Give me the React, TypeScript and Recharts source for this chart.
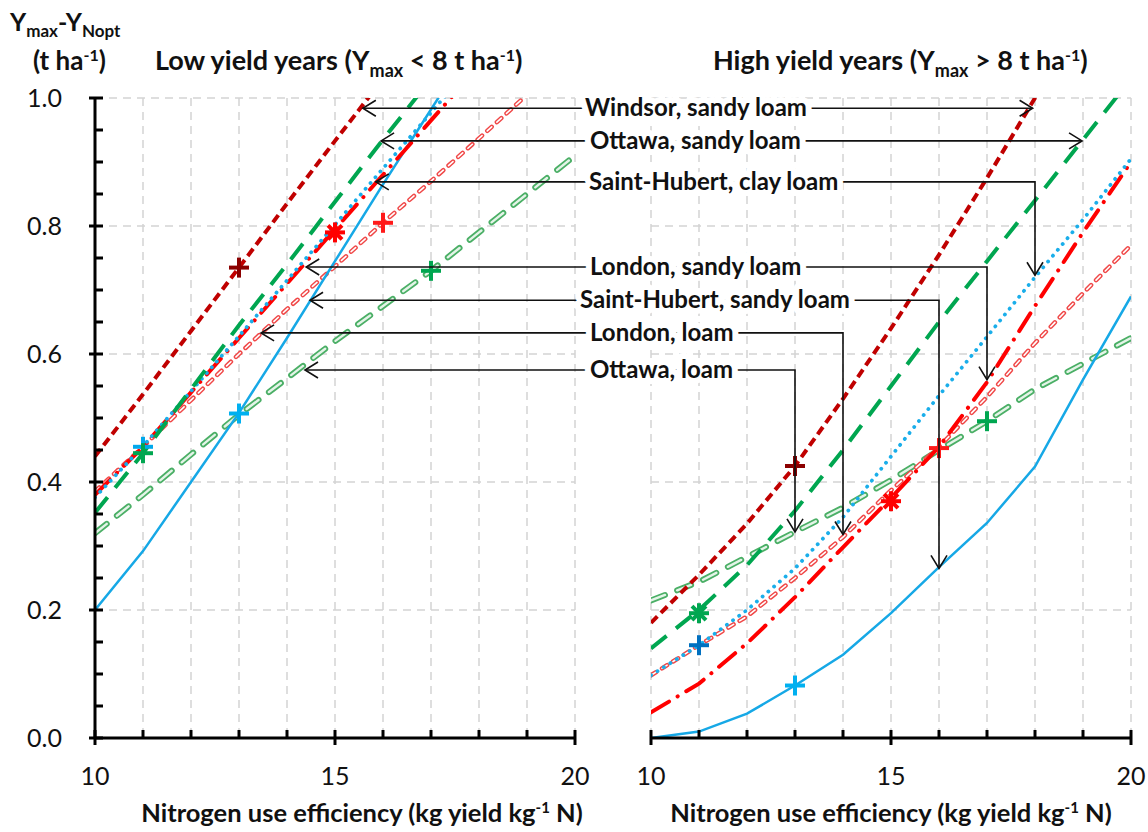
import React from "react";
import {
  ComposedChart,
  Line,
  Scatter,
  XAxis,
  YAxis,
  CartesianGrid,
} from "recharts";

// x values: nitrogen use efficiency (kg yield / kg N)
const nue = [10, 11, 12, 13, 14, 15, 16, 17, 18, 19, 20];

// Low yield years (Ymax < 8 t/ha): Ymax - YNopt (t/ha)
const lowWindsorSandy = [0.44, 0.537, 0.636, 0.735, 0.835, 0.933, 1.03];
const lowOttawaSandy = [0.352, 0.445, 0.545, 0.645, 0.74, 0.838, 0.935, 1.03];
const lowStHubertClay = [0.376, 0.456, 0.542, 0.628, 0.715, 0.802, 0.89, 0.977, 1.065];
const lowLondonSandy = [0.38, 0.455, 0.54, 0.625, 0.71, 0.795, 0.88, 0.965, 1.05];
const lowStHubertSandy = [0.385, 0.455, 0.528, 0.6, 0.67, 0.737, 0.805, 0.87, 0.937, 1.005];
const lowLondonLoam = [0.2, 0.292, 0.4, 0.508, 0.625, 0.745, 0.865, 0.982, 1.1];
const lowOttawaLoam = [0.32, 0.38, 0.443, 0.505, 0.562, 0.62, 0.675, 0.73, 0.79, 0.85, 0.91];

// High yield years (Ymax > 8 t/ha)
const highWindsorSandy = [0.18, 0.255, 0.335, 0.425, 0.53, 0.64, 0.755, 0.875, 1.0, 1.13];
const highOttawaSandy = [0.14, 0.2, 0.27, 0.355, 0.45, 0.55, 0.65, 0.745, 0.84, 0.935, 1.03];
const highStHubertClay = [0.098, 0.145, 0.2, 0.265, 0.345, 0.44, 0.535, 0.627, 0.72, 0.81, 0.905];
const highLondonSandy = [0.04, 0.085, 0.148, 0.22, 0.298, 0.375, 0.455, 0.556, 0.675, 0.79, 0.9];
const highStHubertSandy = [0.098, 0.145, 0.19, 0.25, 0.314, 0.387, 0.455, 0.533, 0.617, 0.695, 0.77];
const highLondonLoam = [0, 0.01, 0.038, 0.082, 0.13, 0.195, 0.267, 0.336, 0.424, 0.56, 0.69];
const highOttawaLoam = [0.215, 0.244, 0.283, 0.322, 0.36, 0.403, 0.45, 0.495, 0.545, 0.585, 0.625];

// optimum points (+ markers)
const lowOptima = [
  { site: "windsor", kind: "plus", x: 13, y: 0.735 },
  { site: "londonSandy", kind: "star", x: 15, y: 0.79 },
  { site: "stHubertSandy", kind: "plus", x: 16, y: 0.805 },
  { site: "ottawaLoam", kind: "plus", x: 17, y: 0.73 },
  { site: "stHubertClay", kind: "plus", x: 11, y: 0.455 },
  { site: "ottawaSandy", kind: "plus", x: 11, y: 0.445 },
  { site: "londonLoam", kind: "plus", x: 13, y: 0.507 },
];
const highOptima = [
  { site: "windsor", kind: "plus", x: 13, y: 0.425 },
  { site: "ottawaSandy", kind: "star", x: 11, y: 0.195 },
  { site: "stHubertClay", kind: "plus", x: 11, y: 0.145 },
  { site: "londonLoam", kind: "plus", x: 13, y: 0.082 },
  { site: "londonSandy", kind: "star", x: 15, y: 0.37 },
  { site: "stHubertSandy", kind: "plus", x: 16, y: 0.453 },
  { site: "ottawaLoam", kind: "plus", x: 17, y: 0.495 },
];

// annotation arrows
const arrowLabels = [
  "Windsor, sandy loam",
  "Ottawa, sandy loam",
  "Saint-Hubert, clay loam",
  "London, sandy loam",
  "Saint-Hubert, sandy loam",
  "London, loam",
  "Ottawa, loam",
];
const arrowRowY = [0.984, 0.933, 0.869, 0.736, 0.684, 0.633, 0.575];
const arrowLowTipX = [15.58, 15.96, 15.85, 14.4, 14.48, 13.46, 14.375];
const arrowHighX = [17.95, 18.98, 18, 17, 16, 14, 13];
const arrowHighTipY = [null, null, 0.723, 0.56, 0.265, 0.318, 0.322];

const yTicks = [
  0, 0.05, 0.1, 0.15, 0.2, 0.25, 0.3, 0.35, 0.4, 0.45, 0.5, 0.55, 0.6, 0.65,
  0.7, 0.75, 0.8, 0.85, 0.9, 0.95, 1.0,
];
const gridY = [0.2, 0.4, 0.6, 0.8, 1.0];

const FONT = "Lato, 'Open Sans', sans-serif";
const PLOT_TOP = 98;
const PLOT_BOTTOM = 738;
const LOW_X0 = 95;
const LOW_X1 = 575;
const HIGH_X0 = 651;
const HIGH_X1 = 1131;
const W = 1148;
const H = 832;

const py = (v: number) => PLOT_BOTTOM - v * (PLOT_BOTTOM - PLOT_TOP);
const lx = (v: number) => LOW_X0 + ((v - 10) / 10) * (LOW_X1 - LOW_X0);
const hx = (v: number) => HIGH_X0 + ((v - 10) / 10) * (HIGH_X1 - HIGH_X0);

const styles: Record<string, any> = {
  ottawaLoam: { stroke: "#4BAF66", width: 6, dash: "15 13", cap: "round", inner: "#E4F4E8", innerWidth: 2.4 },
  stHubertSandy: { stroke: "#F04848", width: 4.5, dash: "6 7", cap: "round", inner: "#FFFFFF", innerWidth: 1.6 },
  londonLoam: { stroke: "#16A8E6", width: 2.5 },
  londonSandy: { stroke: "#FF0000", width: 4, dash: "21 10 0.1 10", cap: "round" },
  stHubertClay: { stroke: "#1AAEEA", width: 3.8, dash: "0.1 7.5", cap: "round" },
  ottawaSandy: { stroke: "#00A650", width: 4, dash: "20 12" },
  windsor: { stroke: "#C00000", width: 4, dash: "9 5" },
};

const markerColors: Record<string, string> = {
  windsor: "#8B0000",
  ottawaSandy: "#00A650",
  stHubertClay: "#00A8EC",
  londonSandy: "#FF0000",
  stHubertSandy: "#FF1A1A",
  londonLoam: "#00B0F0",
  ottawaLoam: "#00A650",
};
const highMarkerColors: Record<string, string> = { ...markerColors, stHubertClay: "#0070C0" };

const toPoints = (ys: number[]) => ys.map((y, i) => ({ x: nue[i], y }));

const YTick = (props: any) => {
  const { x, y, payload } = props;
  const v = payload.value;
  const major = Math.abs(v * 5 - Math.round(v * 5)) < 1e-6;
  return (
    <g>
      <line x1={major ? x - 6 : x} x2={x + 8} y1={y} y2={y} stroke="#000" strokeWidth={3} />
      {major && (
        <text x={x - 33} y={y} dy="0.36em" textAnchor="end" fontFamily={FONT} fontSize={25} fill="#111">
          {v.toFixed(1)}
        </text>
      )}
    </g>
  );
};

const XTick = (props: any) => {
  const { x, y, payload } = props;
  const v = payload.value;
  const major = v % 5 === 0;
  return (
    <g>
      <line x1={x} x2={x} y1={y - 8} y2={major ? y + 7 : y} stroke="#000" strokeWidth={3} />
      {major && (
        <text x={x} y={y + 38} dy="0.36em" textAnchor="middle" fontFamily={FONT} fontSize={25} fill="#111">
          {v}
        </text>
      )}
    </g>
  );
};

const makeMarker = (colors: Record<string, string>) => (props: any) => {
  const { cx, cy, payload } = props;
  const c = colors[payload.site];
  const r = 10;
  return (
    <g stroke={c} strokeWidth={4}>
      <line x1={cx - r} x2={cx + r} y1={cy} y2={cy} />
      <line x1={cx} x2={cx} y1={cy - r} y2={cy + r} />
      {payload.kind === "star" && (
        <>
          <line x1={cx - 7} x2={cx + 7} y1={cy - 7} y2={cy + 7} />
          <line x1={cx - 7} x2={cx + 7} y1={cy + 7} y2={cy - 7} />
        </>
      )}
    </g>
  );
};

type Series = { site: string; values: number[] };

const Panel = ({
  series,
  optima,
  colors,
  left,
  x0,
  x1,
  showYAxis,
}: {
  series: Series[];
  optima: any[];
  colors: Record<string, string>;
  left: number;
  x0: number;
  x1: number;
  showYAxis: boolean;
}) => {
  const width = showYAxis ? 600 : W - left;
  const yAxisWidth = showYAxis ? 50 : 0;
  const margin = {
    top: PLOT_TOP,
    right: left + width - x1,
    bottom: H - PLOT_BOTTOM - 60,
    left: x0 - left - yAxisWidth,
  };
  const lines: React.ReactNode[] = [];
  series.forEach((s) => {
    const st = styles[s.site];
    const pts = toPoints(s.values);
    lines.push(
      <Line
        key={s.site}
        data={pts}
        dataKey="y"
        type="linear"
        stroke={st.stroke}
        strokeWidth={st.width}
        strokeDasharray={st.dash}
        strokeLinecap={st.cap || "butt"}
        dot={false}
        activeDot={false}
        isAnimationActive={false}
      />
    );
    if (st.inner) {
      lines.push(
        <Line
          key={s.site + "-inner"}
          data={pts}
          dataKey="y"
          type="linear"
          stroke={st.inner}
          strokeWidth={st.innerWidth}
          strokeDasharray={st.dash}
          strokeLinecap={st.cap}
          dot={false}
          activeDot={false}
          isAnimationActive={false}
        />
      );
    }
  });
  return (
    <div style={{ position: "absolute", left, top: 0 }}>
      <ComposedChart width={width} height={H} margin={margin}>
        <CartesianGrid
          stroke="#D4D4D4"
          strokeWidth={1.5}
          strokeDasharray="8 6"
          horizontalValues={gridY}
          verticalValues={nue}
        />
        <XAxis
          type="number"
          dataKey="x"
          domain={[10, 20]}
          ticks={nue}
          interval={0}
          height={60}
          tickSize={0}
          tickMargin={0}
          tickLine={false}
          tick={<XTick />}
          axisLine={{ stroke: "#000", strokeWidth: 3 }}
          allowDataOverflow
        />
        <YAxis
          type="number"
          dataKey="y"
          domain={[0, 1]}
          ticks={yTicks}
          interval={0}
          width={yAxisWidth}
          hide={!showYAxis}
          tickSize={0}
          tickMargin={0}
          tickLine={false}
          tick={<YTick />}
          axisLine={{ stroke: "#000", strokeWidth: 3 }}
          allowDataOverflow
        />
        {lines}
        <Scatter data={optima} dataKey="y" shape={makeMarker(colors)} isAnimationActive={false} />
      </ComposedChart>
    </div>
  );
};

const lowSeries: Series[] = [
  { site: "ottawaLoam", values: lowOttawaLoam },
  { site: "stHubertSandy", values: lowStHubertSandy },
  { site: "londonLoam", values: lowLondonLoam },
  { site: "londonSandy", values: lowLondonSandy },
  { site: "stHubertClay", values: lowStHubertClay },
  { site: "ottawaSandy", values: lowOttawaSandy },
  { site: "windsor", values: lowWindsorSandy },
];
const highSeries: Series[] = [
  { site: "ottawaLoam", values: highOttawaLoam },
  { site: "stHubertSandy", values: highStHubertSandy },
  { site: "londonLoam", values: highLondonLoam },
  { site: "londonSandy", values: highLondonSandy },
  { site: "stHubertClay", values: highStHubertClay },
  { site: "ottawaSandy", values: highOttawaSandy },
  { site: "windsor", values: highWindsorSandy },
];

const labelLeft = [585, 590, 589, 590, 580, 590, 590];

const Overlay = () => {
  return (
    <svg width={W} height={H} style={{ position: "absolute", left: 0, top: 0, pointerEvents: "none" }}>
      <g fontFamily={FONT} fontWeight={700} fill="#111">
        <text x={10} y={31} fontSize={25}>
          <tspan>Y</tspan>
          <tspan dy={6} fontSize={17}>max</tspan>
          <tspan dy={-6}>-Y</tspan>
          <tspan dy={6} fontSize={17}>Nopt</tspan>
        </text>
        <text x={33} y={70} fontSize={26}>
          <tspan>(t ha</tspan>
          <tspan dy={-9} fontSize={16}>-1</tspan>
          <tspan dy={9}>)</tspan>
        </text>
        <text x={155} y={70} fontSize={27}>
          <tspan>Low yield years (Y</tspan>
          <tspan dy={7} fontSize={18}>max</tspan>
          <tspan dy={-7}> &lt; 8 t ha</tspan>
          <tspan dy={-9} fontSize={16}>-1</tspan>
          <tspan dy={9}>)</tspan>
        </text>
        <text x={713} y={70} fontSize={27}>
          <tspan>High yield years (Y</tspan>
          <tspan dy={7} fontSize={18}>max</tspan>
          <tspan dy={-7}> &gt; 8 t ha</tspan>
          <tspan dy={-9} fontSize={16}>-1</tspan>
          <tspan dy={9}>)</tspan>
        </text>
        <text x={362} y={822} textAnchor="middle" fontSize={25.5}>
          <tspan>Nitrogen use efficiency (kg yield kg</tspan>
          <tspan dy={-9} fontSize={15}>-1</tspan>
          <tspan dy={9}> N)</tspan>
        </text>
        <text x={(HIGH_X0 + HIGH_X1) / 2} y={822} textAnchor="middle" fontSize={25.5}>
          <tspan>Nitrogen use efficiency (kg yield kg</tspan>
          <tspan dy={-9} fontSize={15}>-1</tspan>
          <tspan dy={9}> N)</tspan>
        </text>
      </g>
      <g stroke="#111" strokeWidth={1.6} fill="none">
        {arrowLabels.map((_, i) => {
          const yy = py(arrowRowY[i]);
          const tipL = lx(arrowLowTipX[i]);
          const xr = hx(arrowHighX[i]);
          const down = arrowHighTipY[i];
          return (
            <g key={i}>
              <polyline points={`${tipL + 13},${yy - 8} ${tipL},${yy} ${tipL + 13},${yy + 8}`} />
              {down == null ? (
                <>
                  <line x1={tipL} x2={xr} y1={yy} y2={yy} />
                  <polyline points={`${xr - 13},${yy - 8} ${xr},${yy} ${xr - 13},${yy + 8}`} />
                </>
              ) : (
                <>
                  <polyline points={`${tipL},${yy} ${xr},${yy} ${xr},${py(down)}`} />
                  <polyline
                    points={`${xr - 8},${py(down) - 13} ${xr},${py(down)} ${xr + 8},${py(down) - 13}`}
                  />
                </>
              )}
            </g>
          );
        })}
      </g>
      <g fontFamily={FONT} fontWeight={700} fontSize={24} fill="#111">
        {arrowLabels.map((t, i) => (
          <text
            key={t}
            x={labelLeft[i]}
            y={py(arrowRowY[i]) + 8}
            stroke="#fff"
            strokeWidth={12}
            paintOrder="stroke"
            strokeLinejoin="round"
          >
            {t}
          </text>
        ))}
      </g>
    </svg>
  );
};

export default function App() {
  return (
    <div style={{ position: "absolute", left: 0, top: 0, width: W, height: H, background: "#fff" }}>
      <Panel series={lowSeries} optima={lowOptima} colors={markerColors} left={0} x0={LOW_X0} x1={LOW_X1} showYAxis />
      <Panel
        series={highSeries}
        optima={highOptima}
        colors={highMarkerColors}
        left={600}
        x0={HIGH_X0}
        x1={HIGH_X1}
        showYAxis={false}
      />
      <Overlay />
    </div>
  );
}
